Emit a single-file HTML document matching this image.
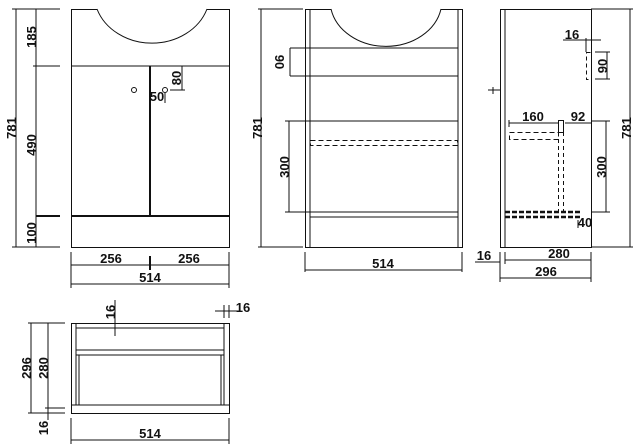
<!DOCTYPE html>
<html><head><meta charset="utf-8"><style>
html,body{margin:0;padding:0;background:#fff;width:643px;height:446px;overflow:hidden}
text{font-family:"Liberation Sans Narrow","Liberation Sans",sans-serif;font-weight:bold;font-size:13px;fill:#111}
</style></head><body>
<svg width="643" height="446" viewBox="0 0 643 446" xmlns="http://www.w3.org/2000/svg" stroke="#111" fill="none" stroke-width="1">
<!-- VIEW 1 -->
<rect x="71.5" y="9.5" width="158" height="238"/>
<path d="M97 9 A58 50 0 0 0 207 9" fill="#fff"/>
<line x1="71" y1="66" x2="229" y2="66"/>
<line x1="150" y1="66" x2="150" y2="216" stroke-width="2"/>
<line x1="71" y1="216" x2="229" y2="216" stroke-width="2"/>
<circle cx="134" cy="90" r="2.5"/><circle cx="165" cy="90" r="2.5"/>
<line x1="16" y1="9" x2="16" y2="247"/><line x1="12" y1="9" x2="60" y2="9"/><line x1="12" y1="247" x2="60" y2="247"/>
<line x1="36" y1="9" x2="36" y2="247"/><line x1="33" y1="66" x2="60" y2="66"/><line x1="36" y1="216" x2="60" y2="216" stroke-width="2"/>
<line x1="182" y1="66" x2="182" y2="90"/><line x1="170" y1="90" x2="185" y2="90"/>
<line x1="165" y1="93" x2="165" y2="103"/>
<line x1="71" y1="252" x2="71" y2="288"/><line x1="229" y1="252" x2="229" y2="288"/>
<line x1="71" y1="265" x2="229" y2="265"/><line x1="150" y1="256" x2="150" y2="270" stroke-width="2"/>
<line x1="71" y1="284" x2="229" y2="284"/>
<!-- VIEW 2 -->
<rect x="305.5" y="9.5" width="157" height="238"/>
<line x1="310" y1="9" x2="310" y2="247"/><line x1="458" y1="9" x2="458" y2="247"/>
<path d="M331 9 A56 46 0 0 0 441 9" fill="#fff"/>
<line x1="290" y1="48" x2="458" y2="48"/><line x1="290" y1="76" x2="458" y2="76"/>
<line x1="290" y1="48" x2="290" y2="76"/>
<line x1="285" y1="121" x2="458" y2="121"/><line x1="285" y1="212" x2="458" y2="212"/>
<line x1="289" y1="121" x2="289" y2="212"/>
<line x1="310" y1="217" x2="458" y2="217"/>
<rect x="310.5" y="140.5" width="147" height="5" stroke-dasharray="5,3"/>
<line x1="261" y1="9" x2="261" y2="247"/><line x1="258" y1="9" x2="303" y2="9"/><line x1="258" y1="247" x2="303" y2="247"/>
<line x1="305" y1="252" x2="305" y2="272"/><line x1="462" y1="252" x2="462" y2="272"/>
<line x1="305" y1="270" x2="462" y2="270"/>
<!-- VIEW 3 -->
<rect x="500.5" y="9.5" width="91" height="238"/>
<line x1="505" y1="9" x2="505" y2="247"/>
<line x1="488" y1="90" x2="500" y2="90"/><line x1="493" y1="87" x2="493" y2="94"/>
<line x1="591" y1="9" x2="633" y2="9"/><line x1="591" y1="247" x2="633" y2="247"/><line x1="630" y1="9" x2="630" y2="247"/>
<line x1="563" y1="40" x2="601" y2="40"/><line x1="586" y1="38" x2="586" y2="52"/>
<rect x="586.5" y="52.5" width="5" height="27" stroke-dasharray="4,3"/>
<line x1="595" y1="52" x2="610" y2="52"/><line x1="595" y1="79" x2="610" y2="79"/><line x1="607" y1="52" x2="607" y2="79"/>
<line x1="591" y1="121" x2="610" y2="121"/><line x1="591" y1="212" x2="610" y2="212"/><line x1="606" y1="121" x2="606" y2="212"/>
<line x1="509" y1="123" x2="558" y2="123"/><line x1="509" y1="120" x2="509" y2="127"/>
<line x1="565" y1="123" x2="591" y2="123"/>
<rect x="558.5" y="120.5" width="5" height="12"/>
<line x1="558.5" y1="132" x2="558.5" y2="212" stroke-dasharray="4,3"/><line x1="563.5" y1="132" x2="563.5" y2="212" stroke-dasharray="4,3"/>
<rect x="509.5" y="132.5" width="49" height="7" stroke-dasharray="5,3"/>
<line x1="505" y1="212" x2="580" y2="212" stroke-width="2.5" stroke-dasharray="5,2"/>
<line x1="505" y1="217" x2="580" y2="217" stroke-width="2.5" stroke-dasharray="5,2"/>
<line x1="578" y1="220" x2="578" y2="228"/>
<line x1="475" y1="262" x2="500" y2="262"/><line x1="500" y1="252" x2="500" y2="282"/><line x1="505" y1="252" x2="505" y2="264"/><line x1="591" y1="252" x2="591" y2="282"/>
<line x1="505" y1="260" x2="591" y2="260"/><line x1="500" y1="278" x2="591" y2="278"/>
<!-- VIEW 4 -->
<rect x="71.5" y="323.5" width="158" height="90"/>
<line x1="76" y1="323" x2="76" y2="405"/><line x1="224" y1="323" x2="224" y2="405"/>
<line x1="76" y1="328" x2="224" y2="328"/>
<line x1="76" y1="350" x2="224" y2="350"/><line x1="76" y1="355" x2="224" y2="355"/>
<line x1="79" y1="355" x2="79" y2="405"/><line x1="221" y1="355" x2="221" y2="405"/>
<line x1="71" y1="405" x2="229" y2="405"/>
<line x1="28" y1="323" x2="65" y2="323"/><line x1="28" y1="413" x2="65" y2="413"/><line x1="45" y1="408" x2="65" y2="408"/>
<line x1="31" y1="323" x2="31" y2="413"/><line x1="48" y1="323" x2="48" y2="420"/>
<line x1="115" y1="300" x2="115" y2="336"/>
<line x1="215" y1="311" x2="240" y2="311"/><line x1="224" y1="305" x2="224" y2="318"/><line x1="229" y1="305" x2="229" y2="318"/>
<line x1="71" y1="418" x2="71" y2="444"/><line x1="229" y1="418" x2="229" y2="444"/>
<line x1="71" y1="440" x2="229" y2="440"/>

<g stroke="none">
<text x="111" y="263" text-anchor="middle">256</text>
<text x="189" y="263" text-anchor="middle">256</text>
<text x="150" y="282" text-anchor="middle">514</text>
<text x="157" y="101" text-anchor="middle">50</text>
<text transform="translate(16,128) rotate(-90)" text-anchor="middle">781</text>
<text transform="translate(36,37) rotate(-90)" text-anchor="middle">185</text>
<text transform="translate(36,145) rotate(-90)" text-anchor="middle">490</text>
<text transform="translate(36,233) rotate(-90)" text-anchor="middle">100</text>
<text transform="translate(181,78) rotate(-90)" text-anchor="middle">80</text>
<text transform="translate(262,128) rotate(-90)" text-anchor="middle">781</text>
<text transform="translate(289,167) rotate(-90)" text-anchor="middle">300</text>
<text transform="translate(275,62) rotate(90)" text-anchor="middle">90</text>
<text x="383" y="268" text-anchor="middle">514</text>
<text x="572" y="39" text-anchor="middle">16</text>
<text transform="translate(607,66) rotate(-90)" text-anchor="middle">90</text>
<text transform="translate(606,167) rotate(-90)" text-anchor="middle">300</text>
<text transform="translate(631,128) rotate(-90)" text-anchor="middle">781</text>
<text x="533" y="121" text-anchor="middle">160</text>
<text x="578" y="121" text-anchor="middle">92</text>
<text x="585" y="227" text-anchor="middle">40</text>
<text x="484" y="260" text-anchor="middle">16</text>
<text x="559" y="258" text-anchor="middle">280</text>
<text x="546" y="276" text-anchor="middle">296</text>
<text transform="translate(31,368) rotate(-90)" text-anchor="middle">296</text>
<text transform="translate(48,368) rotate(-90)" text-anchor="middle">280</text>
<text transform="translate(48,428) rotate(-90)" text-anchor="middle">16</text>
<text transform="translate(115,312) rotate(-90)" text-anchor="middle">16</text>
<text x="243" y="312" text-anchor="middle">16</text>
<text x="150" y="438" text-anchor="middle">514</text>
</g>
</svg>
</body></html>
